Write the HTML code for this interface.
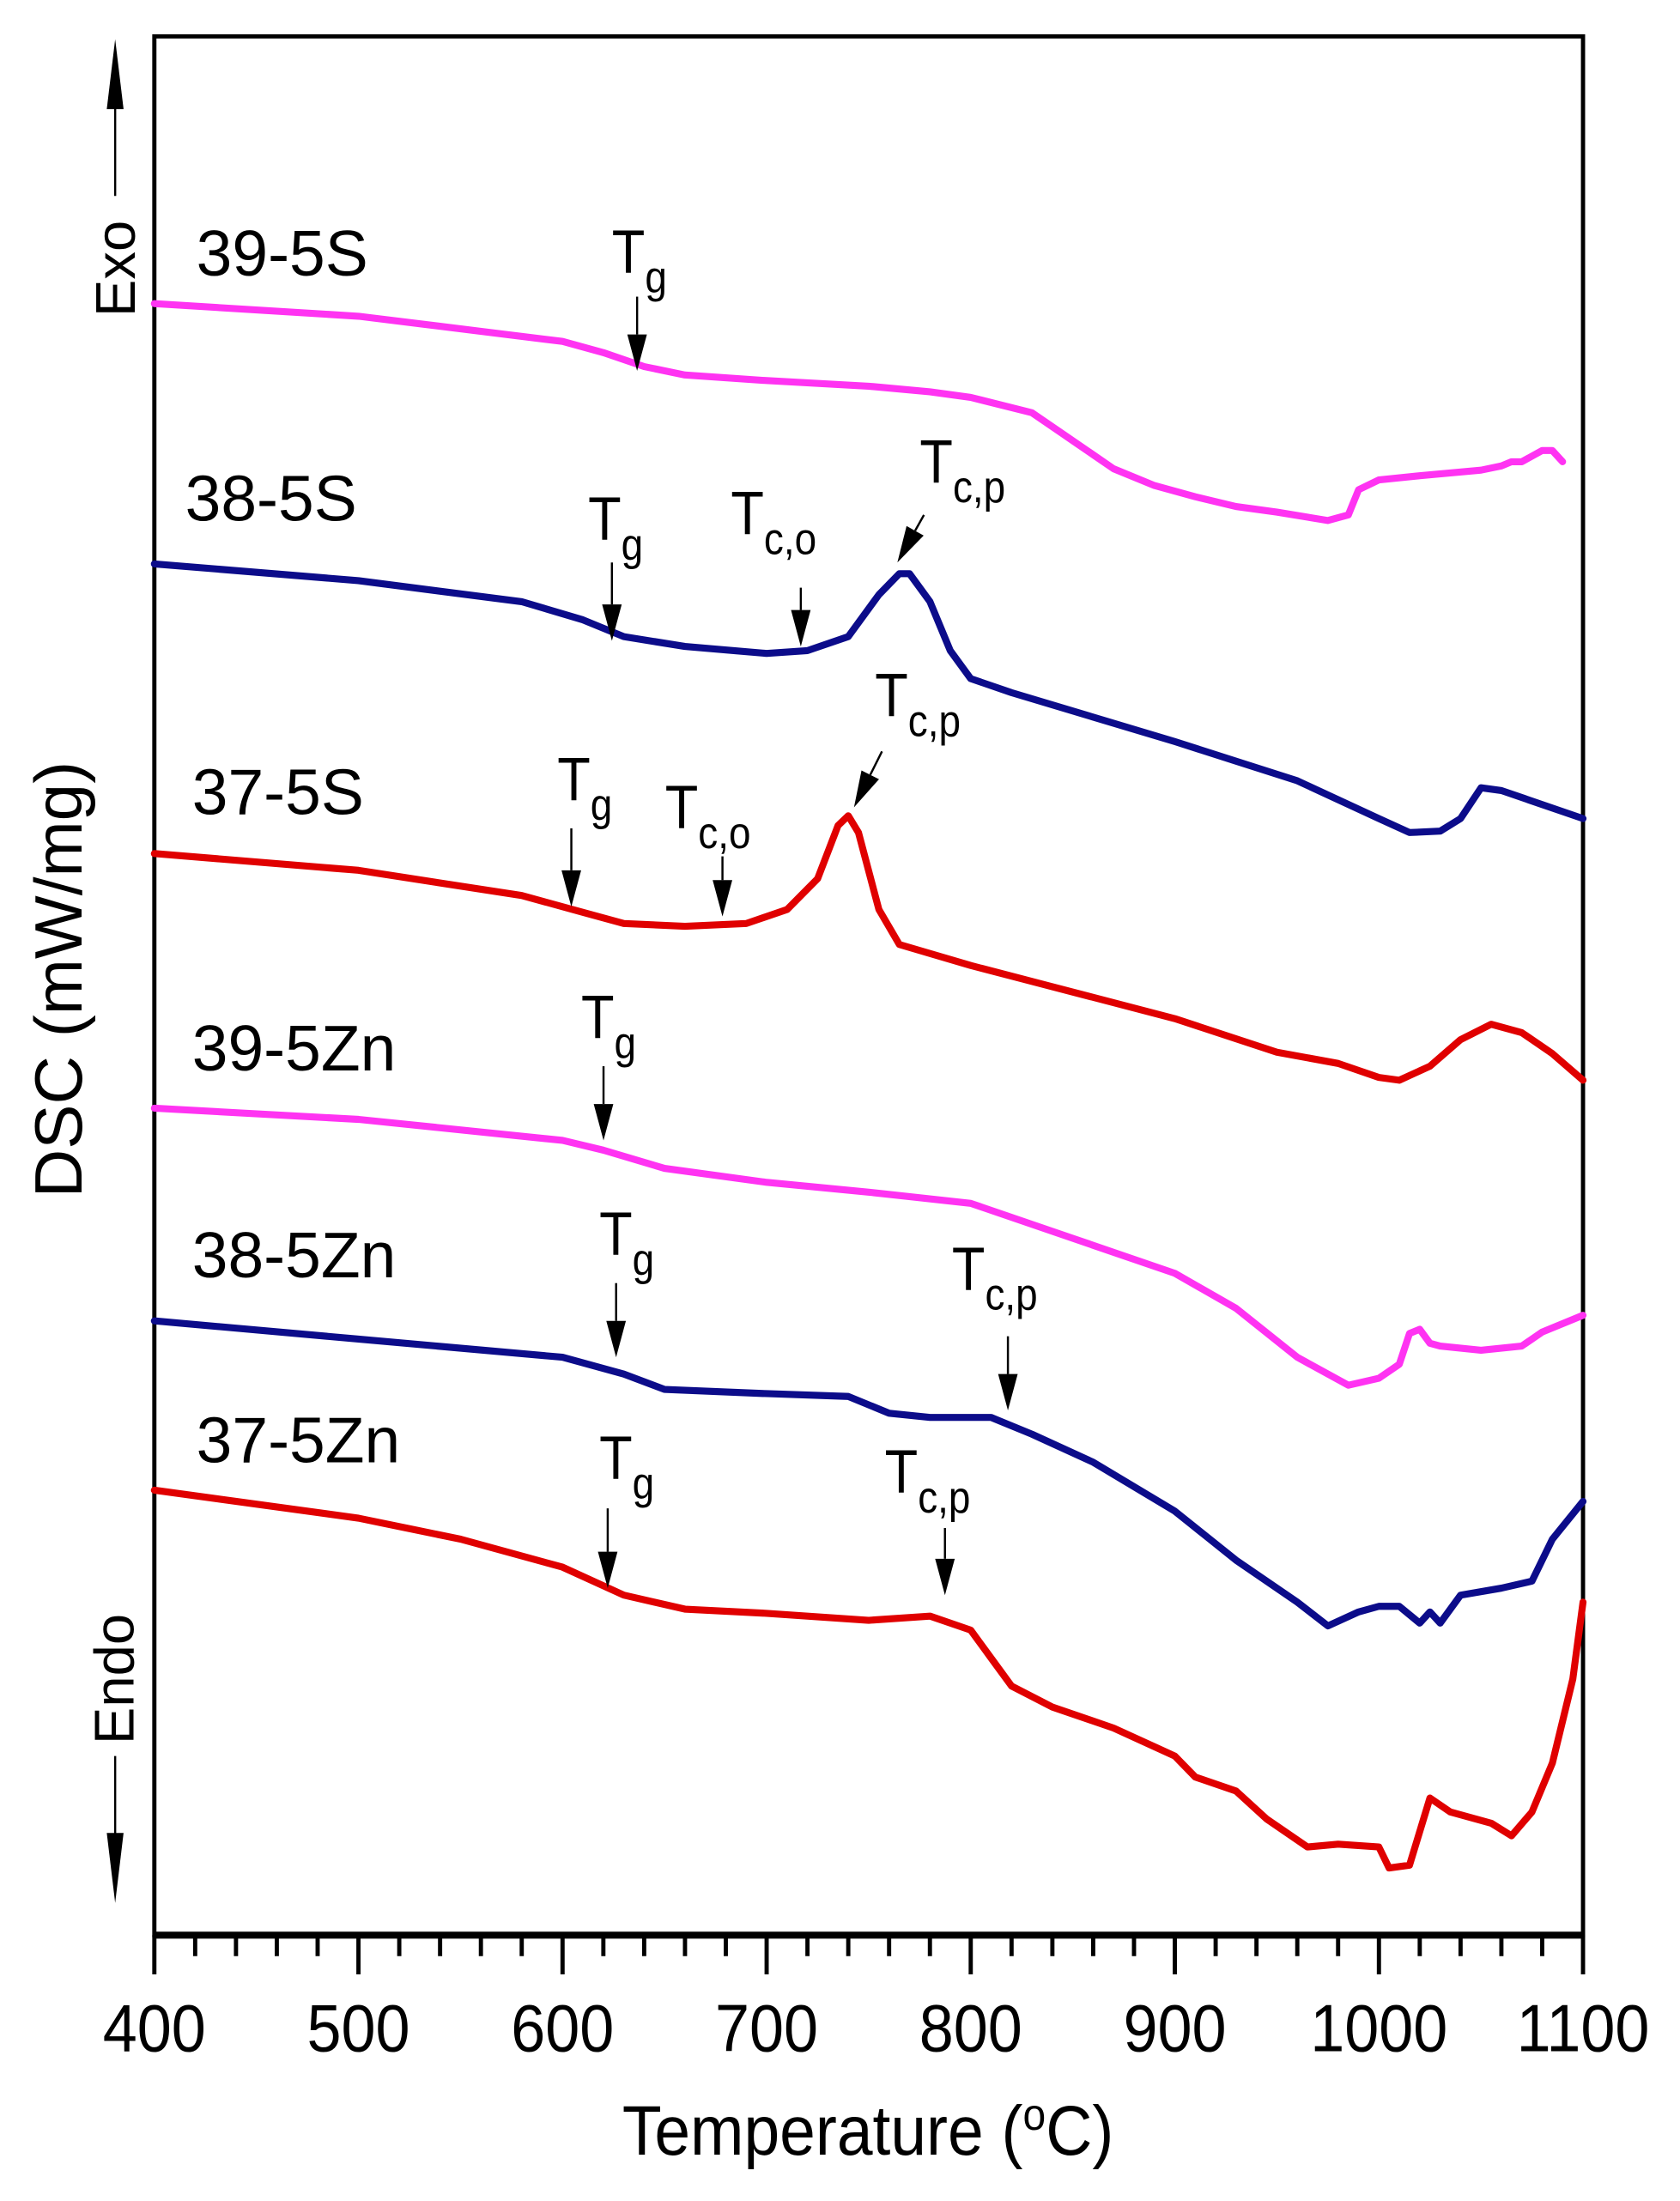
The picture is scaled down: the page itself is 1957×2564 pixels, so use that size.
<!DOCTYPE html>
<html><head><meta charset="utf-8">
<style>
html,body{margin:0;padding:0;background:#fff;}
svg{display:block;}
text{font-family:"Liberation Sans",Arial,sans-serif;fill:#000;}
</style></head>
<body>
<svg id="chart" width="1957" height="2564" viewBox="0 0 1200 1573" xmlns="http://www.w3.org/2000/svg">
<rect x="0" y="0" width="1200" height="1573" fill="#fff"/>
<g id="plot"></g>
</svg>
<script>
// ---- data (temperature in °C, signal in arbitrary offset units) ----
const xTicks = [400,500,600,700,800,900,1000,1100];
const seriesNames = ["39-5S","38-5S","37-5S","39-5Zn","38-5Zn","37-5Zn"];
const seriesColors = ["#ff33f2","#0c0c8a","#e00000","#ff33f2","#0c0c8a","#e00000"];

const t395S = [400,500,600,620,640,660,700,750,780,800,830,850,870,890,910,930,950,975,985,990,1000,1020,1050,1060,1065,1070,1080,1085,1090];
const v395S = [116.6,115.7,113.9,113.1,112.1,111.5,111.1,110.7,110.3,109.9,108.8,106.8,104.8,103.6,102.8,102.1,101.7,101.1,101.5,103.3,104.0,104.3,104.7,105.0,105.3,105.3,106.1,106.1,105.3];

const t385S = [400,500,580,610,630,660,700,720,740,755,765,770,780,790,800,820,900,960,1000,1015,1030,1040,1050,1060,1100];
const v385S = [98.0,96.8,95.3,94.0,92.8,92.1,91.6,91.8,92.8,95.8,97.3,97.3,95.3,91.8,89.8,88.8,85.3,82.5,79.8,78.8,78.9,79.8,82.0,81.8,79.8];

const t375S = [400,500,580,610,630,660,690,710,725,735,740,745,755,765,800,900,950,980,1000,1010,1025,1040,1055,1070,1085,1100];
const v375S = [77.3,76.1,74.3,73.1,72.3,72.1,72.3,73.3,75.5,79.3,80.0,78.8,73.3,70.8,69.3,65.5,63.1,62.3,61.3,61.1,62.1,64.0,65.1,64.5,63.0,61.1];

const t395Zn = [400,500,600,620,650,700,750,800,850,900,930,960,985,1000,1010,1015,1020,1025,1030,1050,1070,1080,1100];
const v395Zn = [59.1,58.3,56.8,56.1,54.8,53.8,53.1,52.3,49.8,47.3,44.8,41.3,39.3,39.8,40.8,43.0,43.3,42.3,42.1,41.8,42.1,43.1,44.3];

const t385Zn = [400,500,600,630,650,700,740,760,780,810,830,860,900,930,960,975,990,1000,1010,1020,1025,1030,1040,1060,1075,1085,1100];
const v385Zn = [43.9,42.6,41.3,40.1,39.0,38.7,38.5,37.3,37.0,37.0,35.8,33.8,30.3,26.8,23.8,22.1,23.1,23.5,23.5,22.3,23.1,22.3,24.3,24.8,25.3,28.3,31.0];

const t375Zn = [400,500,550,600,630,660,700,750,780,800,810,820,840,870,900,910,930,945,965,980,1000,1005,1015,1025,1035,1055,1065,1075,1085,1095,1100];
const v375Zn = [31.8,29.8,28.3,26.3,24.3,23.3,23.0,22.5,22.8,21.8,19.8,17.8,16.3,14.8,12.8,11.3,10.3,8.3,6.3,6.5,6.3,4.8,5.0,9.8,8.8,8.0,7.1,8.8,12.3,18.3,23.8];

const seriesT = [t395S,t385S,t375S,t395Zn,t385Zn,t375Zn];
const seriesV = [v395S,v385S,v375S,v395Zn,v385Zn,v375Zn];
</script>
<script>
const NS="http://www.w3.org/2000/svg";
const L=110,R=1131,TOP=26,BOT=1383;
function xs(t){return L+(t-400)/700*(R-L);}
function ys(v){return BOT-v*10;}
const svg=document.getElementById('plot');
function mk(tag,attrs,parent){const e=document.createElementNS(NS,tag);for(const k in attrs)e.setAttribute(k,attrs[k]);(parent||svg).appendChild(e);return e;}

const frame=mk('rect',{x:L,y:TOP,width:R-L,height:BOT-TOP,fill:'none',stroke:'#000','stroke-width':3});


const xaxis=mk('line',{x1:L,y1:BOT,x2:R,y2:BOT,stroke:'#000','stroke-width':5});



for(let t=400;t<=1100;t+=20){
  const major=(t%100===0);
  const tk=mk('line',{x1:xs(t),y1:BOT,x2:xs(t),y2:BOT+(major?28:15),stroke:'#000','stroke-width':3});
  
  
}
xTicks.forEach(t=>{
  const tx=mk('text',{x:xs(t),y:1466,'font-size':48,'text-anchor':'middle',transform:`translate(${xs(t)},0) scale(0.92,1) translate(${-xs(t)},0)`});
  tx.textContent=t;
  
  
});
const xt=mk('text',{x:620,y:1540,'font-size':50,'text-anchor':'middle',transform:'translate(620,0) scale(0.92,1) translate(-620,0)'});
xt.innerHTML='Temperature (<tspan dy="-18" font-size="32">o</tspan><tspan dy="18">C)</tspan>';



const yt=mk('text',{x:0,y:0,'font-size':48,'text-anchor':'middle',transform:'translate(58,700) rotate(-90)'});
yt.textContent='DSC (mW/mg)';



const exo=mk('text',{x:0,y:0,'font-size':40,'text-anchor':'middle',transform:'translate(96,192) rotate(-90)'});
exo.textContent='Exo';


const exoA=mk('g',{});


mk('line',{x1:82,y1:140,x2:82,y2:70,stroke:'#000','stroke-width':1.5},exoA);
mk('polygon',{points:'82,28 76,78 88,78',fill:'#000'},exoA);
const endo=mk('text',{x:0,y:0,'font-size':40,'text-anchor':'middle',transform:'translate(95,1200) rotate(-90)'});
endo.textContent='Endo';


const endoA=mk('g',{});


mk('line',{x1:82,y1:1255,x2:82,y2:1320,stroke:'#000','stroke-width':1.5},endoA);
mk('polygon',{points:'82,1360 76,1310 88,1310',fill:'#000'},endoA);

seriesT.forEach((ts,i)=>{
  const vs=seriesV[i];
  const d=ts.map((t,j)=>(j?'L':'M')+xs(t).toFixed(1)+','+ys(vs[j]).toFixed(1)).join(' ');
  const p=mk('path',{d:d,fill:'none',stroke:seriesColors[i],'stroke-width':5,'stroke-linejoin':'round','stroke-linecap':'round'});
  
  
});

const labelPos=[[140,197],[132,372],[137,582],[137,765],[137,913],[140,1045]];
seriesNames.forEach((n,i)=>{
  const [x,y]=labelPos[i];
  const t=mk('text',{x:x,y:y,'font-size':46});
  t.textContent=n;
  
  
});

const annos=[
 [437,195,'g',455,212,455,265],
 [420,386,'g',437,402,437,458],
 [522,382,'c,o',572,420,572,462],
 [657,345,'c,p',660,368,641,402],
 [398,572,'g',408,592,408,648],
 [475,592,'c,o',516,612,516,655],
 [625,512,'c,p',630,537,610,577],
 [415,742,'g',431,762,431,815],
 [428,897,'g',440,917,440,970],
 [680,922,'c,p',720,955,720,1008],
 [428,1057,'g',434,1078,434,1135],
 [632,1067,'c,p',675,1092,675,1140]
];
annos.forEach(a=>{
  const [tx,ty,sub,x1,y1,x2,y2]=a;
  const g=mk('g',{});
  
  
  const t=mk('text',{x:tx,y:ty,'font-size':44,transform:`translate(${tx},0) scale(0.88,1) translate(${-tx},0)`},g);
  t.innerHTML='T<tspan dy="14" font-size="32">'+sub+'</tspan>';
  const dx=x2-x1,dy=y2-y1,len=Math.hypot(dx,dy),ux=dx/len,uy=dy/len;
  const hl=26,hw=7;
  const bx=x2-ux*hl,by=y2-uy*hl;
  mk('line',{x1:x1,y1:y1,x2:bx,y2:by,stroke:'#000','stroke-width':1.5},g);
  mk('polygon',{points:`${x2},${y2} ${bx-uy*hw},${by+ux*hw} ${bx+uy*hw},${by-ux*hw}`,fill:'#000'},g);
});
</script>
</body></html>
